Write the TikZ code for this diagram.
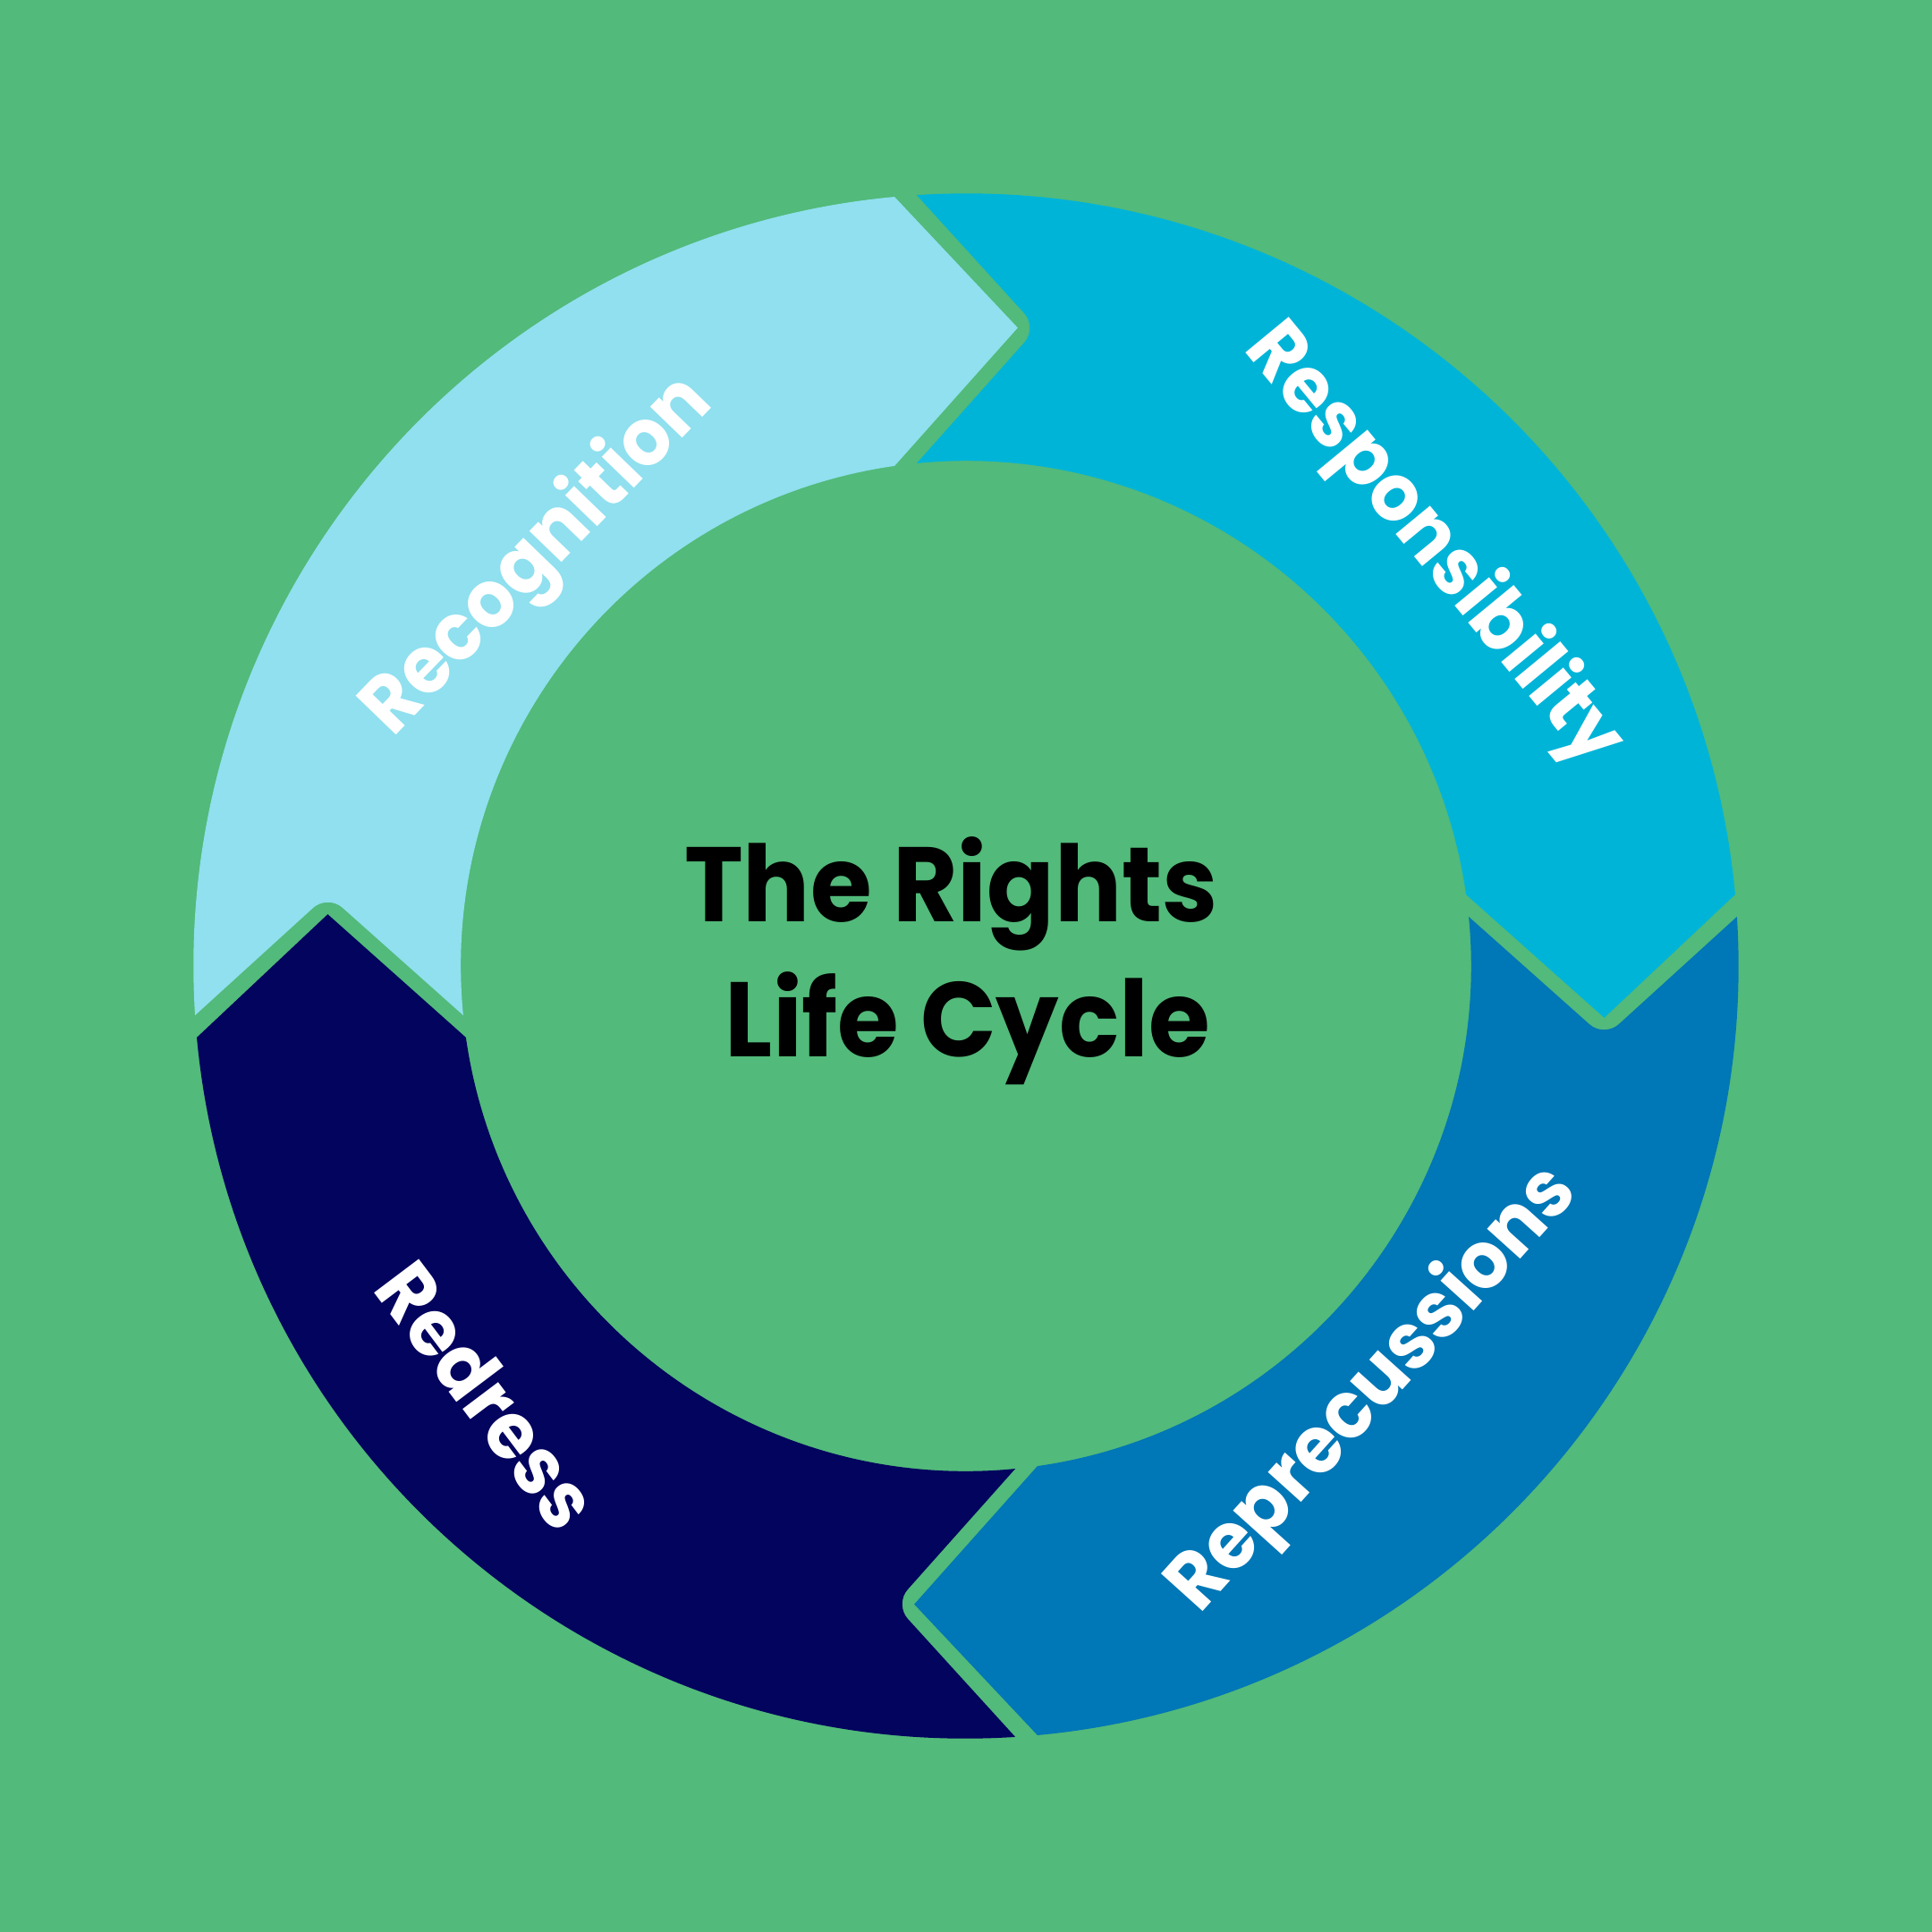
\documentclass[tikz,border=0pt]{standalone}
\usepackage{fontspec}
\setmainfont{Poppins}[FakeStretch=0.94]
\usepackage{tikz}

\begin{document}
\begin{tikzpicture}[x=0.25pt,y=0.25pt,
  lbl/.style={text=white, font=\fontsize{16.2}{16.2}\selectfont\bfseries, inner sep=0pt},
  ttl/.style={text=black, font=\fontsize{21.5}{21.5}\selectfont\bfseries, inner sep=0pt, anchor=base}]

%Background
\fill [color={rgb, 255:red, 82; green, 186; blue, 122 }] (-784,-784) rectangle (784,784);
\useasboundingbox (-784,-784) rectangle (784,784);

%Recognition
\draw [draw opacity=0][fill={rgb, 255:red, 144; green, 224; blue, 239 }, fill opacity=1] (183.66:627) [rounded corners=4] -- (-518,58) [sharp corners] -- (185.60:410) arc [start angle=185.60, end angle=98.13, radius=410] -- (42,518) -- (95.31:627) arc [start angle=95.31, end angle=183.66, radius=627] -- cycle;

%Responsibility
\begin{scope}[rotate=-90]
\draw [draw opacity=0][fill={rgb, 255:red, 0; green, 180; blue, 216 }, fill opacity=1] (183.66:627) [rounded corners=4] -- (-518,58) [sharp corners] -- (185.60:410) arc [start angle=185.60, end angle=98.13, radius=410] -- (42,518) -- (95.31:627) arc [start angle=95.31, end angle=183.66, radius=627] -- cycle;
\end{scope}

%Reprecussions
\begin{scope}[rotate=-180]
\draw [draw opacity=0][fill={rgb, 255:red, 0; green, 119; blue, 182 }, fill opacity=1] (183.66:627) [rounded corners=4] -- (-518,58) [sharp corners] -- (185.60:410) arc [start angle=185.60, end angle=98.13, radius=410] -- (42,518) -- (95.31:627) arc [start angle=95.31, end angle=183.66, radius=627] -- cycle;
\end{scope}

%Redress
\begin{scope}[rotate=-270]
\draw [draw opacity=0][fill={rgb, 255:red, 3; green, 4; blue, 94 }, fill opacity=1] (183.66:627) [rounded corners=4] -- (-518,58) [sharp corners] -- (185.60:410) arc [start angle=185.60, end angle=98.13, radius=410] -- (42,518) -- (95.31:627) arc [start angle=95.31, end angle=183.66, radius=627] -- cycle;
\end{scope}

%Labels
\draw (-347,332) node (recognition) [lbl, rotate=46] {Recognition};
\draw (379,341) node (responsibility) [lbl, rotate=-50.5] {Responsibility};
\draw (331,-344) node (reprecussions) [lbl, rotate=48] {Reprecussions};
\draw (-388,-348) node (redress) [lbl, rotate=-53] {Redress};

%Title
\draw (-12,36) node (title) [ttl] {The Rights};
\draw (1.5,-74) node (subtitle) [ttl] {Life Cycle};

\end{tikzpicture}
\end{document}
